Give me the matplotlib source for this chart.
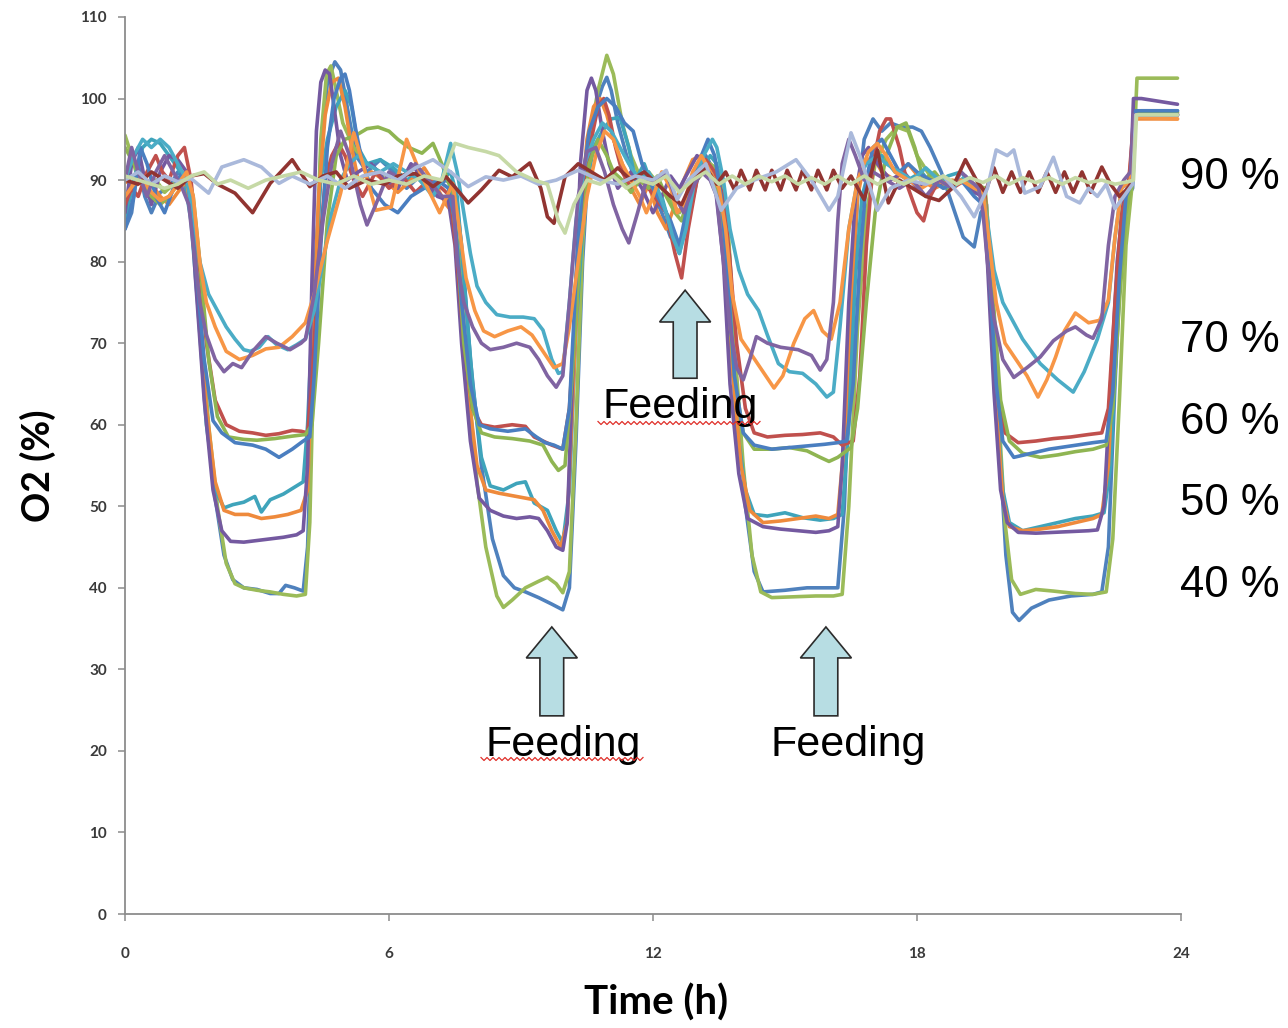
import matplotlib
matplotlib.use("Agg")
import matplotlib.pyplot as plt
from matplotlib.patches import Polygon
from matplotlib.lines import Line2D

# ---------------- data (time h, O2 %) ----------------
x_ticks = [0, 6, 12, 18, 24]
y_ticks = [0, 10, 20, 30, 40, 50, 60, 70, 80, 90, 100, 110]
setpoint_labels = ["90 %", "70 %", "60 %", "50 %", "40 %"]
setpoint_values = [90, 70, 60, 50, 40]
feeding_arrow_times = [12.73, 9.70, 15.93]

s40_blue = [(0,84),(0.15,86),(0.3,92),(0.45,88),(0.6,86),(0.8,88.5),(1.0,89),(1.2,91),(1.4,90),(1.5,87),(1.65,76),(1.85,62),(2.05,51),(2.25,44),(2.45,41),(2.7,40),(3.0,39.8),(3.3,39.3),(3.5,39.3),(3.65,40.3),(3.85,40),(4.05,39.6),(4.15,45),(4.3,70),(4.45,93),(4.6,102),(4.77,104.5),(4.9,103.5),(5.05,99),(5.25,93),(5.5,91),(5.8,92.5),(6.1,91),(6.4,89),(6.7,90.5),(7.0,89),(7.3,90),(7.5,89),(7.65,82),(7.85,68),(8.1,55),(8.35,46),(8.6,41.5),(8.85,40),(9.1,39.5),(9.4,38.8),(9.7,38),(9.95,37.3),(10.1,40),(10.25,58),(10.4,80),(10.55,94),(10.7,99),(10.85,101.5),(10.95,102.6),(11.05,101),(11.2,97),(11.4,93),(11.6,90),(11.8,90.5),(12.0,88.5),(12.2,86),(12.4,83),(12.6,82),(12.8,85),(13.0,90),(13.2,93),(13.4,91),(13.6,89),(13.75,80),(13.9,65),(14.1,50),(14.3,42),(14.5,39.5),(15.0,39.7),(15.5,40),(16.0,40),(16.2,40),(16.35,50),(16.5,72),(16.65,88),(16.8,95),(17.0,97.5),(17.2,96),(17.4,97),(17.65,96.5),(17.9,96.5),(18.1,96),(18.3,94),(18.55,91),(18.8,87),(19.05,83),(19.3,81.8),(19.45,86),(19.58,87),(19.72,75),(19.87,58),(20.02,44),(20.17,37),(20.32,36),(20.6,37.5),(21.0,38.5),(21.5,39),(22.0,39.2),(22.2,39.5),(22.35,45),(22.5,65),(22.65,82),(22.8,88),(22.9,89),(22.97,98),(23.1,98.5),(23.92,98.5)]

s40_green = [(0,95.5),(0.15,93),(0.3,90),(0.5,89),(0.7,90),(0.9,88.5),(1.1,89.5),(1.3,90),(1.45,89),(1.55,84),(1.7,74),(1.9,60),(2.1,50),(2.3,43),(2.5,40.5),(2.7,40),(3.0,39.7),(3.3,39.5),(3.6,39.2),(3.9,39),(4.1,39.2),(4.2,48),(4.32,75),(4.45,95),(4.58,103),(4.68,104),(4.8,101),(4.95,97),(5.2,94),(5.5,92),(5.8,91),(6.1,90),(6.5,91),(6.9,89),(7.2,88),(7.45,87.5),(7.6,80),(7.8,65),(8.0,53),(8.2,45),(8.45,39),(8.6,37.6),(8.8,38.5),(9.1,40),(9.4,40.8),(9.6,41.3),(9.8,40.5),(9.95,39.4),(10.1,42),(10.25,60),(10.4,82),(10.55,95),(10.75,101),(10.95,105.3),(11.1,103),(11.3,97),(11.5,93),(11.7,90.5),(11.9,91),(12.2,89),(12.45,87),(12.6,86),(12.8,88),(13.0,90),(13.3,92),(13.55,91),(13.7,85),(13.85,70),(14.05,55),(14.25,44),(14.45,39.5),(14.7,38.8),(15.2,38.9),(15.7,39),(16.1,39),(16.3,39.2),(16.45,50),(16.65,72),(16.85,86),(17.05,92),(17.3,95),(17.55,96.5),(17.8,96),(18.0,93),(18.3,90.5),(18.6,89),(19.0,90),(19.3,89.5),(19.55,89),(19.7,78),(19.85,62),(20.0,48),(20.15,41),(20.35,39.2),(20.7,39.8),(21.1,39.6),(21.6,39.3),(22.0,39.2),(22.3,39.5),(22.45,46),(22.6,63),(22.75,82),(22.9,90),(23.0,102.5),(23.92,102.5)]

s50_aqua = [(0,85),(0.2,90),(0.4,94),(0.6,95),(0.8,94.5),(1.0,93),(1.2,91.5),(1.35,90),(1.5,85),(1.65,75),(1.85,60),(2.05,52),(2.25,49.8),(2.45,50.2),(2.7,50.5),(2.95,51.2),(3.1,49.3),(3.3,50.8),(3.6,51.5),(3.9,52.5),(4.05,53),(4.15,60),(4.3,78),(4.45,90),(4.6,95),(4.8,99),(5.0,101),(5.15,99),(5.3,94),(5.5,92),(5.8,92.5),(6.1,91.5),(6.4,90),(6.7,91),(7.0,88.5),(7.2,90),(7.4,91),(7.55,88),(7.7,78),(7.9,65),(8.1,56),(8.3,52.5),(8.6,52),(8.9,52.8),(9.1,53),(9.3,50.4),(9.6,49.5),(9.8,47),(9.95,45.5),(10.1,52),(10.25,72),(10.45,88),(10.65,94),(10.85,96),(11.05,97.5),(11.25,97.7),(11.45,94),(11.6,90),(11.8,92),(12.0,89),(12.2,88),(12.4,84),(12.6,81),(12.75,85),(12.9,89),(13.1,91),(13.3,93),(13.45,92),(13.6,86),(13.75,72),(13.9,60),(14.1,52),(14.3,49),(14.6,48.8),(15.0,49.2),(15.4,48.6),(15.8,48.3),(16.1,48.5),(16.3,49),(16.45,60),(16.6,78),(16.75,88),(16.95,92),(17.2,93),(17.5,91),(17.8,90),(18.1,91),(18.4,89),(18.7,90.5),(19.0,91),(19.3,89),(19.5,88),(19.65,78),(19.8,63),(19.95,52),(20.1,48),(20.4,47),(20.8,47.5),(21.2,48),(21.6,48.5),(22.0,48.8),(22.25,49.2),(22.4,55),(22.55,72),(22.7,86),(22.85,89),(22.95,98),(23.92,98)]

s50_orange = [(0,90),(0.2,89),(0.4,90.5),(0.6,89.5),(0.8,88),(1.0,87),(1.2,88.5),(1.4,90),(1.5,86),(1.65,76),(1.85,62),(2.05,53),(2.25,49.5),(2.5,49),(2.8,49),(3.1,48.5),(3.4,48.7),(3.7,49),(4.0,49.5),(4.15,52),(4.25,68),(4.4,88),(4.55,98),(4.7,102),(4.85,102.5),(5.0,99),(5.15,94),(5.3,90),(5.6,91),(5.9,90),(6.2,88.5),(6.5,90),(6.8,91.5),(7.1,89),(7.3,87),(7.45,86),(7.6,78),(7.8,64),(8.0,55),(8.2,52),(8.5,51.6),(8.8,51.3),(9.1,51),(9.3,50.8),(9.5,49.5),(9.7,47),(9.9,45),(10.05,48),(10.2,66),(10.35,85),(10.5,95),(10.65,99),(10.8,100),(10.95,98),(11.1,95),(11.3,92),(11.5,89),(11.7,87),(11.9,89.5),(12.1,86),(12.3,84),(12.5,87),(12.7,90),(12.9,92.5),(13.1,93),(13.3,91),(13.5,89),(13.65,80),(13.8,67),(14.0,55),(14.2,49.5),(14.5,48),(14.9,48.2),(15.3,48.5),(15.7,48.8),(16.0,48.5),(16.2,49),(16.35,58),(16.5,76),(16.65,88),(16.8,92),(17.0,93),(17.2,91),(17.5,90),(17.8,92),(18.1,90),(18.4,89),(18.8,90),(19.2,89.5),(19.5,88.5),(19.65,77),(19.8,62),(19.95,51),(20.1,47.5),(20.4,47),(20.8,47.2),(21.2,47.5),(21.6,48),(22.0,48.5),(22.2,49),(22.35,55),(22.5,72),(22.65,85),(22.8,89),(22.95,97.5),(23.92,97.5)]

s50_purple = [(0,86),(0.15,92),(0.3,94),(0.45,90),(0.6,87),(0.8,91),(1.0,93),(1.2,92.5),(1.4,91),(1.5,87),(1.6,78),(1.8,63),(2.0,52),(2.2,47),(2.4,45.7),(2.7,45.6),(3.0,45.8),(3.3,46),(3.6,46.2),(3.9,46.5),(4.05,47),(4.15,55),(4.25,78),(4.35,96),(4.45,102),(4.55,103.5),(4.65,103),(4.75,99),(4.9,93),(5.05,90),(5.3,91),(5.6,92),(5.9,90),(6.2,89),(6.5,92),(6.8,90),(7.1,88),(7.35,87.5),(7.5,82),(7.65,70),(7.85,58),(8.05,51),(8.3,49.5),(8.6,48.8),(8.9,48.5),(9.2,48.7),(9.4,48.5),(9.6,47),(9.8,45),(9.95,44.6),(10.05,48),(10.2,70),(10.35,92),(10.5,101),(10.6,102.5),(10.7,101),(10.85,96),(11.0,92),(11.2,89),(11.5,91),(11.75,89),(12.0,86),(12.2,88),(12.4,90.5),(12.6,89),(12.8,91),(13.0,93),(13.2,92),(13.4,90),(13.6,80),(13.75,65),(13.95,54),(14.15,48.5),(14.5,47.5),(14.9,47.2),(15.3,47),(15.7,46.8),(16.0,47),(16.2,47.5),(16.3,55),(16.45,75),(16.6,88),(16.75,93),(16.9,94),(17.1,92),(17.4,90),(17.7,91),(18.0,89),(18.3,90),(18.6,89.5),(19.0,90),(19.3,88.5),(19.5,88),(19.6,80),(19.75,64),(19.9,52),(20.05,48),(20.3,46.8),(20.7,46.7),(21.1,46.8),(21.5,46.9),(21.9,47),(22.1,47.1),(22.25,50),(22.4,65),(22.55,80),(22.7,88),(22.85,90),(22.92,100),(23.1,100),(23.92,99.3)]

s60_red = [(0,87),(0.15,89),(0.3,88),(0.5,91),(0.7,93),(0.85,91),(1.0,90),(1.2,93),(1.35,94),(1.5,90),(1.65,82),(1.85,70),(2.05,63),(2.3,60),(2.6,59.2),(2.9,59),(3.2,58.7),(3.5,58.9),(3.8,59.3),(4.0,59.2),(4.15,59),(4.25,65),(4.4,80),(4.55,90),(4.7,93),(4.85,94.5),(5.0,93),(5.2,90),(5.4,88),(5.7,91),(6.0,89),(6.3,90.5),(6.6,88.5),(6.9,90),(7.2,89),(7.4,88),(7.55,80),(7.7,70),(7.9,62),(8.1,60),(8.4,59.7),(8.8,60),(9.1,59.8),(9.3,58.5),(9.5,58),(9.7,57.5),(9.95,57),(10.1,62),(10.25,75),(10.45,90),(10.6,95),(10.75,99),(10.88,100),(11.0,98),(11.15,94),(11.3,91),(11.5,89),(11.7,90),(11.9,89),(12.1,87.5),(12.3,86),(12.5,81),(12.65,78),(12.8,84),(13.0,90),(13.2,92.5),(13.4,91),(13.6,88),(13.75,80),(13.9,70),(14.1,62),(14.3,59),(14.6,58.5),(15.0,58.7),(15.4,58.8),(15.8,59),(16.1,58.5),(16.3,57.5),(16.55,58),(16.7,66),(16.85,82),(17.0,92),(17.15,96),(17.3,97.5),(17.4,97.5),(17.6,94),(17.8,89),(18.0,86),(18.15,85),(18.3,88),(18.5,90),(18.8,89),(19.1,90),(19.4,89),(19.55,88),(19.7,75),(19.85,64),(20.0,59),(20.3,57.8),(20.7,58),(21.1,58.3),(21.5,58.5),(21.9,58.8),(22.2,59),(22.35,62),(22.5,75),(22.65,86),(22.8,89),(22.92,97),(23.0,98.2),(23.92,98.2)]

s60_green = [(0,94),(0.2,92),(0.4,90),(0.6,88),(0.8,87),(1.0,88),(1.2,89.5),(1.4,90.5),(1.55,88),(1.7,80),(1.9,68),(2.1,61),(2.35,58.5),(2.7,58.2),(3.0,58.1),(3.4,58.3),(3.8,58.6),(4.1,58.8),(4.25,60),(4.4,70),(4.6,85),(4.8,93),(5.0,95),(5.25,95.5),(5.5,96.3),(5.75,96.5),(6.0,96),(6.2,95),(6.45,94),(6.75,93.3),(7.0,94.5),(7.2,92),(7.4,89),(7.55,82),(7.7,70),(7.9,62),(8.1,59),(8.4,58.5),(8.8,58.3),(9.2,58),(9.5,57.5),(9.7,55.5),(9.85,54.4),(10.0,55),(10.15,65),(10.35,82),(10.55,92),(10.75,95),(10.95,93),(11.1,91),(11.3,90),(11.5,88.5),(11.7,90),(11.9,89),(12.1,90.5),(12.3,88),(12.5,86),(12.65,85),(12.8,88),(13.0,92),(13.2,91),(13.4,89.5),(13.55,86),(13.7,76),(13.85,66),(14.05,59),(14.3,57),(14.7,57),(15.1,57.2),(15.5,56.8),(15.8,56),(16.0,55.5),(16.2,56),(16.5,57.2),(16.65,62),(16.85,75),(17.05,86),(17.3,93),(17.55,96.5),(17.75,97),(17.95,94),(18.15,90),(18.4,91),(18.7,89),(19.0,90),(19.3,89.5),(19.5,89),(19.6,85),(19.75,74),(19.9,63),(20.1,58),(20.4,56.5),(20.8,56),(21.2,56.3),(21.6,56.7),(22.0,57),(22.3,57.5),(22.45,62),(22.6,75),(22.75,86),(22.9,90),(22.97,98.3),(23.92,98.3)]

s60_blue = [(0,84),(0.2,88),(0.35,94),(0.5,92),(0.7,88),(0.9,86),(1.1,89),(1.3,91),(1.45,89),(1.6,80),(1.8,68),(2.0,60.5),(2.2,59),(2.5,57.8),(2.9,57.5),(3.2,57),(3.5,56),(3.8,57),(4.05,58),(4.2,58.5),(4.3,66),(4.45,82),(4.6,94),(4.75,100),(4.9,102.5),(5.0,103),(5.1,101),(5.25,96),(5.4,92),(5.6,89),(5.9,87),(6.2,86),(6.5,88),(6.8,89),(7.1,90),(7.35,89),(7.5,85),(7.65,75),(7.85,65),(8.05,60),(8.3,59.5),(8.7,59.2),(9.1,59.5),(9.35,58.5),(9.55,57.8),(9.75,57.5),(9.95,57),(10.1,62),(10.25,78),(10.4,90),(10.55,96),(10.75,99),(10.95,100),(11.15,99),(11.35,97),(11.55,96),(11.75,92),(12.0,89),(12.2,87),(12.4,85),(12.6,82),(12.75,86),(12.9,90),(13.1,93),(13.25,95),(13.4,93),(13.55,88),(13.7,78),(13.85,66),(14.05,59),(14.3,57.5),(14.7,57),(15.1,57.2),(15.5,57.4),(15.9,57.6),(16.2,57.8),(16.4,58),(16.55,65),(16.7,80),(16.85,90),(17.0,94),(17.2,95),(17.4,93),(17.6,91),(17.8,92),(18.0,91),(18.3,90),(18.6,89),(19.0,90),(19.3,88),(19.5,87),(19.65,78),(19.8,65),(19.95,58),(20.2,56),(20.6,56.5),(21.0,57),(21.5,57.4),(22.0,57.8),(22.3,58),(22.45,64),(22.6,78),(22.75,88),(22.9,90),(22.97,98.5),(23.92,98.5)]

s70_aqua = [(0,90),(0.2,93),(0.4,95),(0.6,94),(0.8,95),(1.0,94),(1.2,92),(1.4,90),(1.55,86),(1.7,80),(1.9,76),(2.1,74),(2.3,72),(2.5,70.5),(2.7,69.2),(2.85,69),(3.05,69.5),(3.25,70.8),(3.45,69.8),(3.7,69.2),(3.9,69.8),(4.1,70.5),(4.3,74),(4.5,80),(4.7,86),(4.9,90),(5.1,92),(5.3,93),(5.5,92),(5.8,91),(6.1,92),(6.4,91),(6.7,90),(7.0,88),(7.2,90),(7.4,94.5),(7.55,91),(7.7,86),(7.85,81),(8.0,77),(8.2,75),(8.45,73.5),(8.75,73.2),(9.05,73.2),(9.3,73),(9.5,71.6),(9.7,68),(9.85,66.3),(9.95,66.5),(10.1,75),(10.25,85),(10.45,92),(10.65,95),(10.85,97),(11.05,96),(11.25,94),(11.45,92),(11.7,90),(11.9,91),(12.1,89),(12.3,86),(12.45,83),(12.6,81),(12.75,84),(12.95,90),(13.15,93),(13.35,95),(13.45,94),(13.6,90),(13.75,84),(13.95,79),(14.15,76),(14.4,74),(14.6,71),(14.85,67.5),(15.1,66.5),(15.4,66.3),(15.7,65),(15.95,63.4),(16.1,64),(16.25,72),(16.45,84),(16.65,90),(16.85,92),(17.1,93),(17.3,92),(17.6,91),(17.9,90),(18.2,91.5),(18.5,90),(18.8,89),(19.1,90.5),(19.35,89),(19.5,88),(19.6,85),(19.75,79),(19.95,75),(20.1,73.5),(20.4,70.5),(20.8,67.5),(21.2,65.5),(21.55,64),(21.8,66.5),(22.1,70.5),(22.35,75),(22.5,83),(22.65,89),(22.85,90),(22.95,98),(23.92,98)]

s70_orange = [(0,88),(0.2,89.5),(0.4,90),(0.6,88.5),(0.8,87.5),(1.0,88),(1.2,89.5),(1.4,91),(1.55,88),(1.7,80),(1.85,75),(2.05,72),(2.3,69),(2.6,68),(2.9,68.5),(3.2,69.3),(3.5,69.5),(3.8,70.8),(4.1,72.5),(4.3,76),(4.6,82.6),(4.9,88.4),(5.2,95.8),(5.45,91.2),(5.7,86.3),(6.05,86.7),(6.4,95),(6.7,91),(7.15,86),(7.45,89.6),(7.6,84),(7.75,78),(7.95,74),(8.15,71.5),(8.4,70.8),(8.7,71.5),(9.0,72),(9.25,71),(9.5,69),(9.75,67),(9.95,67.5),(10.1,72),(10.3,80),(10.5,88),(10.7,93),(10.9,96),(11.1,95),(11.3,92),(11.5,90),(11.7,88),(11.85,86),(12.0,88),(12.2,91),(12.4,89),(12.55,86),(12.7,87),(12.9,91),(13.1,93),(13.3,91),(13.5,89),(13.65,84),(13.8,76),(14.0,70.5),(14.25,68.5),(14.5,66.5),(14.75,64.5),(14.95,66),(15.2,70),(15.45,73),(15.65,74),(15.85,71.5),(16.05,70.5),(16.25,75),(16.45,84),(16.65,90),(16.9,93.5),(17.1,94.5),(17.3,93),(17.5,91),(17.8,90),(18.1,89),(18.4,90),(18.7,89.5),(19.0,90),(19.3,89),(19.5,88.5),(19.65,82),(19.8,75),(20.0,70),(20.25,68),(20.5,66),(20.75,63.4),(20.95,65.5),(21.15,68.3),(21.35,71.5),(21.6,73.7),(21.9,72.5),(22.15,72.8),(22.35,75.3),(22.5,83),(22.65,89),(22.85,90),(22.97,97.7),(23.92,97.5)]

s70_purple = [(0,90),(0.15,94),(0.3,91),(0.5,88),(0.7,91),(0.9,93),(1.1,91),(1.3,89),(1.45,87),(1.55,82),(1.7,75),(1.85,71),(2.05,68),(2.25,66.5),(2.45,67.5),(2.65,67),(2.9,69),(3.2,70.8),(3.45,70),(3.75,69.2),(4.0,70),(4.1,70.5),(4.3,76),(4.5,85),(4.7,92),(4.9,96),(5.1,93),(5.35,87),(5.5,84.5),(5.7,87),(6.0,91),(6.3,90),(6.6,92),(6.9,90),(7.2,88),(7.45,88),(7.55,80),(7.7,75),(7.9,72),(8.1,70),(8.3,69.2),(8.6,69.5),(8.9,70),(9.2,69.5),(9.4,68),(9.6,66),(9.8,64.6),(9.95,66),(10.1,75),(10.3,88),(10.5,93.5),(10.7,94),(10.9,91),(11.1,87),(11.3,84),(11.45,82.3),(11.65,86),(11.85,90),(12.1,90),(12.3,91),(12.5,88),(12.7,86),(12.9,89),(13.1,91),(13.3,90),(13.45,88),(13.6,80),(13.75,72),(13.9,67),(14.05,65.5),(14.2,68),(14.35,70.8),(14.6,70),(14.9,69.5),(15.3,69.2),(15.6,68.5),(15.8,66.7),(15.95,68),(16.1,75),(16.2,85),(16.3,92),(16.45,95),(16.6,93),(16.8,90),(17.0,91),(17.3,90),(17.6,89),(17.9,90),(18.2,88),(18.5,90),(18.8,89),(19.0,91),(19.2,90),(19.4,89),(19.5,86),(19.6,80),(19.75,73),(19.95,68),(20.2,65.8),(20.5,67),(20.8,68.3),(21.1,70.3),(21.4,71.5),(21.6,72),(21.85,71),(22.0,70.6),(22.2,73),(22.35,82),(22.5,88),(22.7,90),(22.85,91),(22.92,98),(23.92,98)]

s90_maroon = [(0,90),(0.3,89.5),(0.6,91),(0.9,90),(1.2,89),(1.5,90.5),(1.8,90.8),(2.1,89.5),(2.5,88.4),(2.9,86),(3.3,89.6),(3.8,92.5),(4.2,89.2),(4.5,90.5),(4.8,91),(5.1,89),(5.5,90),(5.9,89.5),(6.2,90.5),(6.6,90.8),(7.0,89.2),(7.3,90.4),(7.6,88.5),(7.8,87.2),(8.1,88.8),(8.5,91.2),(8.8,90.4),(9.2,92.1),(9.45,89),(9.6,85.5),(9.75,84.7),(10.0,90.4),(10.3,92),(10.6,91),(10.9,90),(11.2,91.5),(11.5,90),(11.8,91),(12.1,89.5),(12.4,88),(12.65,87),(12.9,90),(13.2,91.5),(13.45,89.5),(13.65,91),(13.85,88.8),(14.0,91.2),(14.2,88.8),(14.35,91.2),(14.55,88.8),(14.7,91.2),(14.9,88.8),(15.05,91.2),(15.25,88.8),(15.4,91.2),(15.6,88.8),(15.75,91.2),(15.95,88.8),(16.1,91.2),(16.3,89),(16.5,90.5),(16.8,87.6),(17.1,93.7),(17.35,87.2),(17.6,90),(17.9,89),(18.2,88),(18.5,87.5),(18.8,89),(19.1,92.5),(19.35,90),(19.55,88.5),(19.75,91.5),(19.95,88.5),(20.15,91),(20.35,88.5),(20.55,91),(20.75,88.5),(20.95,91),(21.15,88.5),(21.35,91),(21.55,88.5),(21.75,91),(21.95,88.5),(22.2,91.6),(22.4,89.5),(22.6,88),(22.8,89),(22.9,90),(22.97,98),(23.92,98)]

s90_lavender = [(0,90),(0.3,91),(0.6,89.5),(0.9,90.5),(1.2,89.8),(1.5,90.2),(1.9,88.4),(2.2,91.6),(2.7,92.5),(3.1,91.6),(3.5,89.6),(3.8,90.5),(4.2,89.5),(4.6,90.5),(5.0,89),(5.4,90.5),(5.8,91),(6.2,90),(6.6,91.5),(7.0,92.5),(7.4,91),(7.8,89.2),(8.2,90.4),(8.6,90),(9.0,90.5),(9.4,89.5),(9.8,90),(10.3,91.2),(10.8,90),(11.2,89.5),(11.6,90.5),(12.0,90),(12.3,91.2),(12.55,87.6),(12.8,90),(13.2,92),(13.55,86.3),(13.9,89),(14.3,90),(14.8,91),(15.25,92.5),(15.6,90),(16.0,86.3),(16.2,88),(16.5,95.8),(16.7,93),(17.1,86.3),(17.4,89),(17.8,90),(18.2,89.5),(18.6,90.5),(19.0,88),(19.3,85.5),(19.6,89),(19.8,93.7),(20.05,93),(20.2,93.7),(20.45,88.4),(20.8,89.2),(21.1,92.8),(21.4,88),(21.7,87.2),(21.9,89),(22.1,88),(22.3,89.5),(22.5,86.5),(22.7,88),(22.9,89.5),(22.97,98),(23.92,98)]

s90_palegreen = [(0,90.5),(0.3,90),(0.6,89.5),(0.9,89),(1.2,89.5),(1.5,90.5),(1.8,91),(2.1,89.5),(2.4,90),(2.8,89),(3.2,90),(3.6,90.5),(4.0,91),(4.4,90),(4.8,89.5),(5.2,90.5),(5.6,89.5),(6.0,90),(6.4,89.5),(6.8,90.5),(7.2,90),(7.5,94.5),(7.8,94),(8.2,93.5),(8.5,93),(8.9,91),(9.3,90),(9.6,89.5),(9.85,85),(10.0,83.5),(10.2,87),(10.5,90),(10.8,89.5),(11.1,90.5),(11.4,89),(11.7,90),(12.0,89.5),(12.3,90.5),(12.6,88.5),(12.9,90),(13.2,91),(13.5,89.5),(13.8,90.5),(14.1,89.5),(14.4,90.5),(14.7,89.8),(15.0,90.5),(15.3,89.5),(15.6,90.3),(15.9,89.5),(16.2,90.5),(16.5,89.5),(16.8,90.5),(17.1,89.5),(17.4,90.3),(17.7,89.5),(18.0,90.3),(18.3,89.7),(18.6,90.5),(18.9,89.5),(19.2,90.3),(19.5,89.7),(19.8,90.5),(20.1,89.5),(20.4,90.3),(20.7,89.7),(21.0,90.3),(21.3,89.5),(21.6,90.3),(21.9,89.7),(22.2,90),(22.5,89.5),(22.8,89.8),(22.92,90),(22.99,98),(23.92,98)]

series = [
    (s40_blue, "#4F81BD"),
    (s40_green, "#9BBB59"),
    (s50_aqua, "#3FA4BB"),
    (s50_orange, "#EE8A3C"),
    (s50_purple, "#7459A0"),
    (s60_red, "#C0504D"),
    (s60_green, "#8FB552"),
    (s60_blue, "#4A7EC0"),
    (s70_aqua, "#4BACC6"),
    (s70_orange, "#F79646"),
    (s70_purple, "#8064A2"),
    (s90_maroon, "#913431"),
    (s90_lavender, "#AAB9DB"),
    (s90_palegreen, "#C6D9A6"),
]

# ---------------- figure ----------------
W, H = 1288, 1028
fig = plt.figure(figsize=(W / 100, H / 100), dpi=100)
ax = fig.add_axes([125 / W, 1 - 914 / H, (1181 - 125) / W, (914 - 17) / H])

for pts, col in series:
    t = [p[0] for p in pts]
    v = [p[1] for p in pts]
    ax.plot(t, v, color=col, lw=2.6, solid_joinstyle="round", solid_capstyle="round")

ax.set_xlim(0, 24)
ax.set_ylim(0, 110)
ax.set_xticks(x_ticks)
ax.set_yticks(y_ticks)
for s in ("top", "right"):
    ax.spines[s].set_visible(False)
for s in ("left", "bottom"):
    ax.spines[s].set_color("#8C8C8C")
    ax.spines[s].set_linewidth(1.3)
ax.tick_params(axis="both", direction="out", length=5, width=1.1, color="#8C8C8C",
               labelsize=11, labelcolor="#3A3A3A")
ax.tick_params(axis="x", pad=19)
ax.tick_params(axis="y", pad=8)
for lab in ax.get_xticklabels() + ax.get_yticklabels():
    lab.set_fontweight("bold")
    lab.set_family("Lato")

ax.set_xlabel("Time (h)", fontsize=29, fontweight="bold", family="Lato")
ax.set_ylabel("O2 (%)", fontsize=27, fontweight="bold", family="Lato")
ax.xaxis.set_label_coords(0.503, (914 - 1003) / 897)
ax.xaxis.label.set_va("center")
ax.yaxis.set_label_coords((38 - 125) / 1056, 0.5)
ax.yaxis.label.set_va("center")

# feeding arrows
arrow_specs = [(76.5, 72.6, 65.7), (35.2, 31.4, 24.3), (35.2, 31.4, 24.3)]
for xc, (ytip, ybase, ybot) in zip(feeding_arrow_times, arrow_specs):
    hw, sw = 0.58, 0.27
    poly = Polygon([(xc - sw, ybot), (xc - sw, ybase), (xc - hw, ybase), (xc, ytip),
                    (xc + hw, ybase), (xc + sw, ybase), (xc + sw, ybot)],
                   closed=True, facecolor="#B7DDE3", edgecolor="#2B2B2B", lw=1.2, zorder=5)
    ax.add_patch(poly)

feed_text_pos = [(12.61, 60.8), (9.95, 19.4), (16.43, 19.4)]
for x, y in feed_text_pos:
    ax.text(x, y, "Feeding", fontsize=31, family="Liberation Sans", ha="center",
            va="baseline", color="black", zorder=6)

# spell-check squiggles under two of the labels (decoration)
for x0, x1, py in [(598, 762, 423), (481, 645, 759)]:
    xs, ys = [], []
    k = 0
    x = x0
    while x <= x1:
        xs.append(x / W)
        ys.append(1 - (py + (1.5 if k % 2 else -1.5)) / H)
        x += 3
        k += 1
    fig.add_artist(Line2D(xs, ys, transform=fig.transFigure, color="#E0302A", lw=0.9))

# set-point labels at right
for lab, val in zip(setpoint_labels, setpoint_values):
    ax.text(23.98, val - 1.1, lab, fontsize=31.5, family="Liberation Sans",
            ha="left", va="baseline", color="black", clip_on=False)

fig.savefig("out.png", dpi=100)
